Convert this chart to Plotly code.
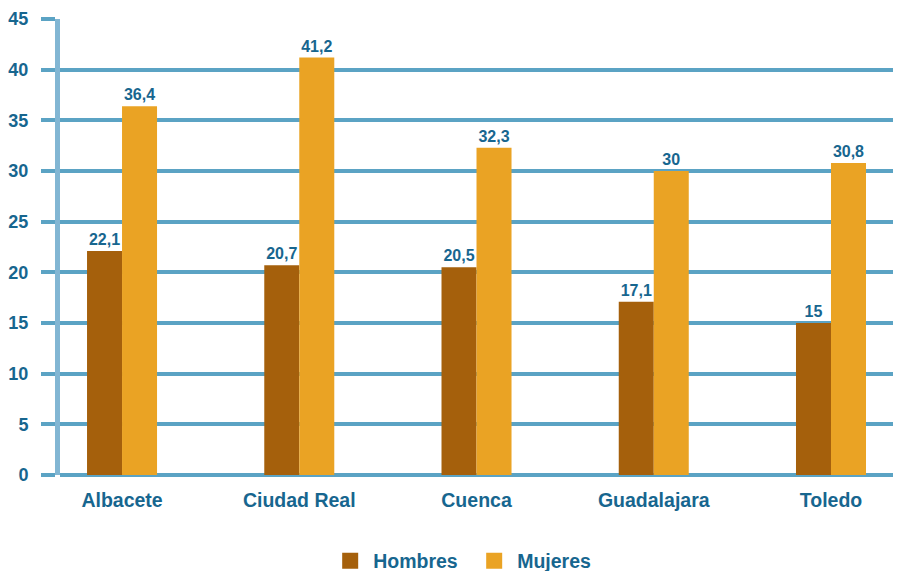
import plotly.graph_objects as go

categories = ["Albacete", "Ciudad Real", "Cuenca", "Guadalajara", "Toledo"]
hombres = [22.1, 20.7, 20.5, 17.1, 15]
mujeres = [36.4, 41.2, 32.3, 30, 30.8]
y_ticks = [0, 5, 10, 15, 20, 25, 30, 35, 40, 45]
series_names = ["Hombres", "Mujeres"]
series_colors = ["#a5600c", "#eaa324"]

TXT = "#17668f"
FONT = "Liberation Sans, Arial, sans-serif"

def fmt(v):
    return f"{v:g}".replace(".", ",")

fig = go.Figure()
for name, vals, col in zip(series_names, [hombres, mujeres], series_colors):
    fig.add_trace(go.Bar(
        name=name, x=categories, y=vals,
        marker=dict(color=col, line=dict(width=0)),
        text=[fmt(v) for v in vals], textposition="outside",
        textfont=dict(family=FONT, size=16, color=TXT, weight="bold"),
        cliponaxis=False, showlegend=False,
    ))
# legend entries with large square swatches
for name, col in zip(series_names, series_colors):
    fig.add_trace(go.Scatter(
        name=name, x=[None], y=[None], mode="markers",
        marker=dict(symbol="square", size=20, color=col),
        showlegend=True,
    ))

# page body has an 8px margin, so the figure is 8px smaller and margins offset
fig.update_layout(
    width=893, height=563,
    margin=dict(l=52, r=0, t=11, b=96, autoexpand=False),
    paper_bgcolor="white", plot_bgcolor="white",
    barmode="group", bargap=0.605, bargroupgap=0,
    font=dict(family=FONT, color=TXT, size=19, weight="bold"),
    showlegend=True,
    legend=dict(orientation="h", x=0.3177, xanchor="left", y=-0.189, yanchor="middle",
                font=dict(family=FONT, size=19.5, color=TXT, weight="bold"),
                itemwidth=36, entrywidth=93, entrywidthmode="pixels", tracegroupgap=0),
    xaxis=dict(
        range=[-0.35, 4.395], showgrid=False, zeroline=False, showline=False,
        ticks="", tickfont=dict(family=FONT, size=19.5, color=TXT, weight="bold"),
        ticklabelstandoff=11, automargin=False,
    ),
    yaxis=dict(
        range=[0, 45], tickvals=y_ticks,
        showgrid=True, gridcolor="#5ba3c4", gridwidth=4,
        zeroline=True, zerolinecolor="#5ba3c4", zerolinewidth=4,
        showline=True, linecolor="#82b6d3", linewidth=5,
        ticks="outside", ticklen=14, tickwidth=4, tickcolor="#5ba3c4",
        tickfont=dict(family=FONT, size=18, color=TXT, weight="bold"),
        ticklabelstandoff=9, automargin=False,
    ),
)

fig.write_html("out.html")
